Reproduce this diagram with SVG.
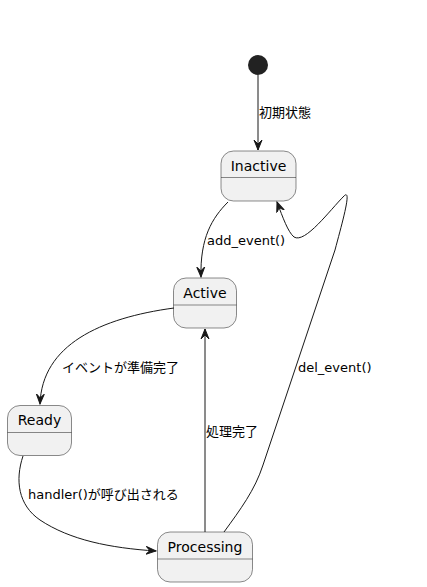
<svg xmlns="http://www.w3.org/2000/svg" width="427" height="587" viewBox="0 0 427 587">
<style>
.st rect{fill:#F1F1F1;stroke:#181818;stroke-width:0.5}
.st line{stroke:#181818;stroke-width:0.5}
.nm{font-family:"DejaVu Sans","Noto Sans CJK JP",sans-serif;font-size:14px;fill:#000;text-anchor:middle}
.lb{font-family:"DejaVu Sans","Noto Sans CJK JP",sans-serif;font-size:13px;fill:#000}
.ed path{fill:none;stroke:#181818;stroke-width:1}
</style>
<defs>
<marker id="ah" markerWidth="12" markerHeight="12" refX="10" refY="5" orient="auto" markerUnits="userSpaceOnUse" viewBox="0 0 12 10">
<path d="M0,1 L10,5 L0,9 L4,5 Z" fill="#181818" stroke="#181818" stroke-width="1"/>
</marker>
</defs>
<g id="start"><circle cx="258" cy="65" r="10" fill="#222222"/></g>
<g id="Inactive" class="st"><rect x="221" y="151" width="75" height="50" rx="12.5"/><line x1="221" y1="177.5" x2="296" y2="177.5"/><text class="nm" x="258.5" y="171">Inactive</text></g>
<g id="Active" class="st"><rect x="173.5" y="278" width="63" height="50" rx="12.5"/><line x1="173.5" y1="305" x2="236.5" y2="305"/><text class="nm" x="205" y="297.5">Active</text></g>
<g id="Ready" class="st"><rect x="7.5" y="405.5" width="64" height="50" rx="12.5"/><line x1="7.5" y1="432.5" x2="71.5" y2="432.5"/><text class="nm" x="39.5" y="425">Ready</text></g>
<g id="Processing" class="st"><rect x="157.5" y="532" width="95" height="50" rx="12.5"/><line x1="157.5" y1="559" x2="252.5" y2="559"/><text class="nm" x="205" y="552">Processing</text></g>
<g id="edges" class="ed">
<path d="M258,75 L258,150" marker-end="url(#ah)"/>
<path d="M228,202 C212,218 200,238 201,277" marker-end="url(#ah)"/>
<path d="M174,308 C100,318 42,345 40,404" marker-end="url(#ah)"/>
<path d="M23,456 C15,480 18,505 40,520 C70,540 110,548 156,551" marker-end="url(#ah)"/>
<path d="M205,532 L205,329" marker-end="url(#ah)"/>
<path d="M224,532 C240,510 255,490 263,465 L335,250 C343,220 352,188 344,196 C330,210 305,244 294,237 C288,232 283,218 277,202" marker-end="url(#ah)"/>
</g>
<g id="labels">
<text class="lb" x="259" y="117">初期状態</text>
<text class="lb" x="207" y="245">add_event()</text>
<text class="lb" x="62" y="372">イベントが準備完了</text>
<text class="lb" x="28" y="499">handler()が呼び出される</text>
<text class="lb" x="206" y="436">処理完了</text>
<text class="lb" x="298" y="372">del_event()</text>
</g>
</svg>
